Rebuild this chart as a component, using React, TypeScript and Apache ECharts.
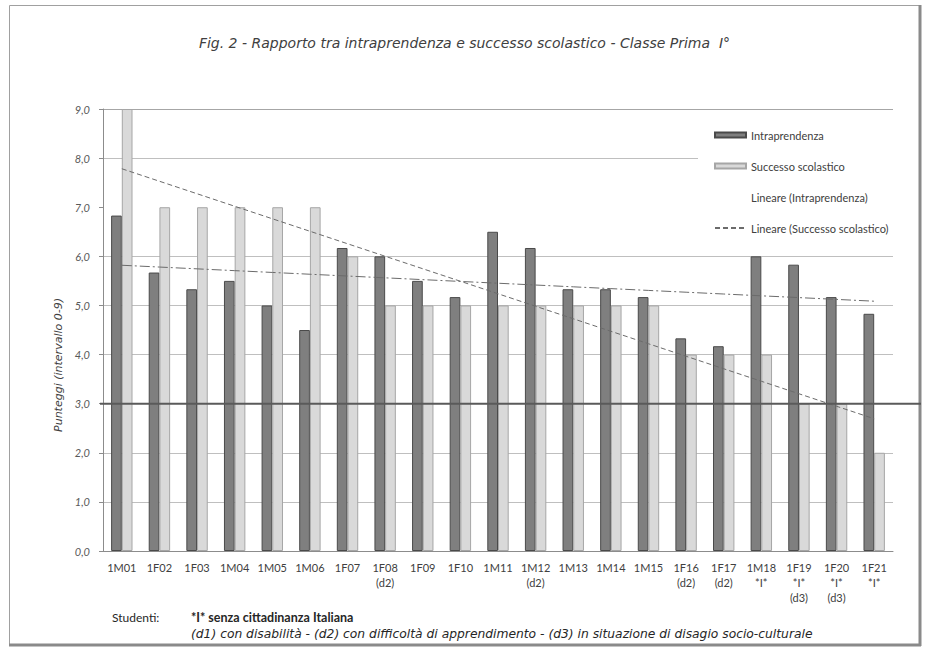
import React, { useEffect, useRef } from 'react';
import * as echarts from 'echarts';

const categories = [
  '1M01', '1F02', '1F03', '1M04', '1M05', '1M06', '1F07', '1F08\n(d2)', '1F09', '1F10',
  '1M11', '1M12\n(d2)', '1M13', '1M14', '1M15', '1F16\n(d2)', '1F17\n(d2)', '1M18\n*I*',
  '1F19\n*I*\n(d3)', '1F20\n*I*\n(d3)', '1F21\n*I*',
];
const intraprendenza = [
  6.83, 5.67, 5.33, 5.5, 5.0, 4.5, 6.17, 6.0, 5.5, 5.17,
  6.5, 6.17, 5.33, 5.33, 5.17, 4.33, 4.17, 6.0, 5.83, 5.17, 4.83,
];
const successo = [9, 7, 7, 7, 7, 7, 6, 5, 5, 5, 5, 5, 5, 5, 5, 4, 4, 4, 3, 3, 2];
const seriesNames = [
  'Intraprendenza',
  'Successo scolastico',
  'Lineare (Intraprendenza)',
  'Lineare (Successo scolastico)',
];
const titleText = 'Fig. 2 - Rapporto tra intraprendenza e successo scolastico - Classe Prima  I°';
const yAxisName = 'Punteggi (intervallo 0-9)';
const noteLabel = 'Studenti:';
const noteLine1 = '*I* senza cittadinanza Italiana';
const noteLine2 =
  '(d1) con disabilità - (d2) con difficoltà di apprendimento - (d3) in situazione di disagio socio-culturale';
const thresholdValue = 3;

// Least-squares linear trend (as Excel's "Lineare" trendline), x = 1..n
function linearTrend(v: number[]): number[] {
  const n = v.length;
  let sx = 0, sy = 0, sxy = 0, sxx = 0;
  v.forEach((y, i) => {
    const x = i + 1;
    sx += x; sy += y; sxy += x * y; sxx += x * x;
  });
  const b = (n * sxy - sx * sy) / (n * sxx - sx * sx);
  const a = (sy - b * sx) / n;
  return v.map((_, i) => +(a + b * (i + 1)).toFixed(4));
}

const FONT = 'Lato, "Open Sans", "Liberation Sans", sans-serif';
const WIDE = '"DejaVu Sans", Verdana, sans-serif';

export default function App() {
  const ref = useRef<HTMLDivElement>(null);
  useEffect(() => {
    if (!ref.current) return;
    const chart = echarts.init(ref.current, null, { renderer: 'svg' });
    const gridLineColors = ['#bfbfbf', '#bfbfbf', '#bfbfbf', '#bfbfbf', '#bfbfbf', '#bfbfbf', '#bfbfbf', 'rgba(0,0,0,0)', '#bfbfbf', '#a6a6a6'];
    const option: any = {
      animation: false,
      backgroundColor: '#ffffff',
      textStyle: { fontFamily: FONT },
      title: {
        text: titleText,
        left: 'center',
        top: 36,
        padding: 0,
        textStyle: { fontSize: 14, fontStyle: 'italic', fontWeight: 'normal', color: '#404040', fontFamily: WIDE },
      },
      legend: {
        orient: 'vertical',
        left: 698,
        top: 118,
        padding: [10, 14, 10, 16],
        backgroundColor: '#ffffff',
        itemWidth: 31,
        itemHeight: 5,
        itemGap: 17,
        textStyle: { fontSize: 11, color: '#404040', lineHeight: 14, fontFamily: FONT },
        data: [
          { name: seriesNames[0], icon: 'rect' },
          { name: seriesNames[1], icon: 'rect' },
          { name: seriesNames[2], itemStyle: { opacity: 0 }, lineStyle: { opacity: 0 } },
          { name: seriesNames[3], itemStyle: { opacity: 0 } },
        ],
      },
      grid: { left: 103, right: 36, top: 109, bottom: 111 },
      xAxis: {
        type: 'category',
        data: categories,
        axisLine: { lineStyle: { color: '#8c8c8c' } },
        axisTick: { length: 5, lineStyle: { color: '#8c8c8c' } },
        axisLabel: { interval: 0, margin: 9, fontSize: 11, lineHeight: 15, color: '#404040', fontFamily: FONT },
      },
      yAxis: {
        type: 'value',
        min: 0,
        max: 9,
        interval: 1,
        axisLine: { show: true, lineStyle: { color: '#8c8c8c' } },
        axisTick: { show: true, length: 4, lineStyle: { color: '#8c8c8c' } },
        axisLabel: {
          formatter: (v: number) => v.toFixed(1).replace('.', ','),
          fontStyle: 'italic',
          fontSize: 11,
          color: '#595959',
          margin: 13,
          fontFamily: FONT,
        },
        splitLine: { show: true, lineStyle: { color: gridLineColors, width: 1 } },
      },
      series: [
        {
          name: seriesNames[0],
          type: 'bar',
          data: intraprendenza,
          barWidth: 10.7,
          barGap: '0%',
          itemStyle: { color: '#7f7f7f', borderColor: '#4a4a4a', borderWidth: 1 },
        },
        {
          name: seriesNames[1],
          type: 'bar',
          data: successo,
          barWidth: 10.7,
          barGap: '0%',
          itemStyle: { color: '#d9d9d9', borderColor: '#a6a6a6', borderWidth: 1 },
        },
        {
          name: seriesNames[2],
          type: 'line',
          data: linearTrend(intraprendenza),
          symbol: 'none',
          z: 5,
          lineStyle: { color: '#6b6b6b', width: 1, type: [10, 3, 2, 3] },
          itemStyle: { color: '#6b6b6b' },
        },
        {
          name: seriesNames[3],
          type: 'line',
          data: linearTrend(successo),
          symbol: 'none',
          z: 5,
          lineStyle: { color: '#6b6b6b', width: 1, type: [5, 3] },
          itemStyle: { color: '#6b6b6b' },
        },
      ],
    };
    chart.setOption(option);
    const y3 = chart.convertToPixel({ yAxisIndex: 0 }, thresholdValue) as number;
    chart.setOption({
      graphic: [
        {
          type: 'rect',
          shape: { x: 9.5, y: 5.5, width: 910, height: 639 },
          style: { fill: 'none', stroke: '#a0a0a0', lineWidth: 1 },
          silent: true,
        },
        {
          type: 'line',
          shape: { x1: 920, y1: 5, x2: 920, y2: 646 },
          style: { stroke: '#8a8a8a', lineWidth: 3 },
          silent: true,
        },
        {
          type: 'line',
          shape: { x1: 9, y1: 645, x2: 921, y2: 645 },
          style: { stroke: '#8a8a8a', lineWidth: 3 },
          silent: true,
        },
        {
          type: 'line',
          z: 10,
          shape: { x1: 100, y1: y3, x2: 921, y2: y3 },
          style: { stroke: '#5a5a5a', lineWidth: 2 },
          silent: true,
        },
        {
          type: 'text',
          x: 58,
          y: 365,
          rotation: Math.PI / 2,
          style: { text: yAxisName, align: 'center', verticalAlign: 'middle', fontStyle: 'italic', fontSize: 11, fontFamily: WIDE, fill: '#404040' },
        },
        {
          type: 'text',
          x: 112,
          y: 617,
          style: { text: noteLabel, verticalAlign: 'middle', fontSize: 12, fontFamily: FONT, fill: '#262626' },
        },
        {
          type: 'text',
          x: 191,
          y: 617,
          style: { text: noteLine1, verticalAlign: 'middle', fontSize: 12.5, fontWeight: 'bold', fontFamily: FONT, fill: '#262626' },
        },
        {
          type: 'text',
          x: 191,
          y: 634,
          style: { text: noteLine2, verticalAlign: 'middle', fontSize: 12.3, fontStyle: 'italic', fontFamily: WIDE, fill: '#262626' },
        },
      ],
    });
    return () => chart.dispose();
  }, []);
  return (
    <div
      ref={ref}
      style={{ position: 'fixed', left: 0, top: 0, width: 929, height: 662, background: '#fff' }}
    />
  );
}
